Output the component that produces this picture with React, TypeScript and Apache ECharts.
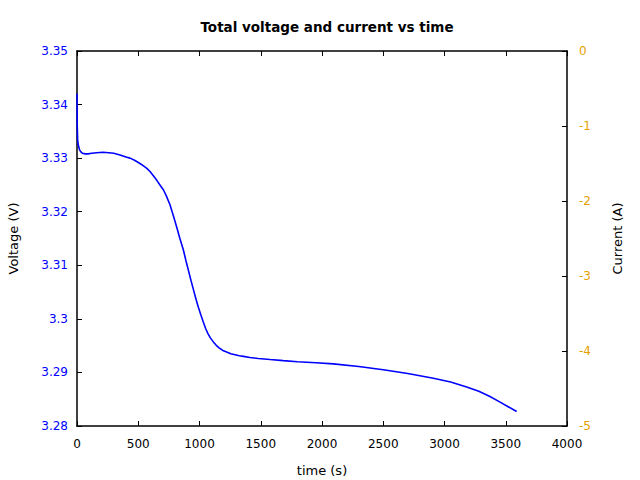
import React, { useEffect, useRef } from "react";
import * as echarts from "echarts";

const timeS = [0, 2, 5, 10, 20, 30, 45, 65, 90, 120, 160, 212, 260, 300, 351, 400, 433, 470, 514, 540, 570, 596, 620, 650, 680, 705, 730, 759, 786, 813, 841, 868, 890, 910, 930, 950, 970, 990, 1010, 1031, 1050, 1070, 1090, 1113, 1135, 1160, 1190, 1222, 1255, 1290, 1325, 1358, 1412, 1480, 1576, 1684, 1800, 1950, 2093, 2300, 2500, 2700, 2909, 3050, 3181, 3280, 3371, 3450, 3520, 3589];
const voltageV = [3.342, 3.336, 3.3335, 3.3325, 3.3316, 3.3312, 3.3309, 3.3308, 3.3308, 3.3309, 3.3310, 3.3311, 3.3310, 3.3309, 3.3306, 3.3302, 3.3300, 3.3296, 3.3290, 3.3286, 3.3281, 3.3275, 3.3268, 3.3259, 3.3249, 3.3241, 3.3229, 3.3213, 3.3193, 3.3172, 3.3149, 3.3129, 3.3108, 3.3090, 3.3072, 3.3055, 3.3038, 3.3022, 3.3008, 3.2994, 3.2982, 3.2972, 3.2964, 3.2957, 3.2951, 3.2946, 3.2941, 3.2938, 3.2935, 3.2933, 3.2931, 3.2930, 3.2928, 3.2926, 3.2924, 3.2922, 3.2920, 3.2918, 3.2916, 3.2911, 3.2905, 3.2898, 3.2889, 3.2882, 3.2873, 3.2865, 3.2855, 3.2845, 3.2836, 3.2827];

const xTicks = { min: 0, max: 4000, interval: 500 };
const vTicks = { min: 3.28, max: 3.35, interval: 0.01 };
const iTicks = { min: -5, max: 0, interval: 1 };

const FONT = "DejaVu Sans";
const BLUE = "#0000ff";
const ORANGE = "#e69f00";

export default function App() {
  const ref = useRef<HTMLDivElement>(null);
  useEffect(() => {
    if (!ref.current) return;
    const chart = echarts.init(ref.current, undefined, { renderer: "svg" });
    const axisLine = { show: true, onZero: false, lineStyle: { color: "#000", width: 1.5 } };
    const axisTick = { show: true, inside: true, length: 5, lineStyle: { color: "#000", width: 1 } };
    chart.setOption({
      animation: false,
      backgroundColor: "#fff",
      title: {
        text: "Total voltage and current vs time",
        left: 322,
        textAlign: "center",
        top: 15,
        textStyle: { fontFamily: FONT, fontSize: 13.5, fontWeight: "bold", color: "#000" },
      },
      grid: { left: 77, right: 73, top: 51, bottom: 54, containLabel: false, outerBoundsMode: "none" },
      xAxis: [
        {
          type: "value",
          position: "bottom",
          min: xTicks.min,
          max: xTicks.max,
          interval: xTicks.interval,
          name: "time (s)",
          nameLocation: "middle",
          nameGap: 38,
          nameTextStyle: { fontFamily: FONT, fontSize: 13, color: "#000" },
          axisLine,
          axisTick,
          splitLine: { show: false },
          axisLabel: { fontFamily: FONT, fontSize: 12, color: "#000", margin: 12, formatter: (v: number) => String(v) },
        },
        {
          type: "value",
          position: "top",
          min: xTicks.min,
          max: xTicks.max,
          interval: xTicks.interval,
          axisLine,
          axisTick,
          splitLine: { show: false },
          axisLabel: { show: false },
        },
      ],
      yAxis: [
        {
          type: "value",
          position: "left",
          min: vTicks.min,
          max: vTicks.max,
          interval: vTicks.interval,
          name: "Voltage (V)",
          nameLocation: "middle",
          nameGap: 57,
          nameTextStyle: { fontFamily: FONT, fontSize: 13, color: "#000" },
          axisLine,
          axisTick,
          splitLine: { show: false },
          axisLabel: {
            fontFamily: FONT,
            fontSize: 12,
            color: BLUE,
            margin: 9,
            formatter: (v: number) => parseFloat(v.toFixed(2)).toString(),
          },
        },
        {
          type: "value",
          position: "right",
          min: iTicks.min,
          max: iTicks.max,
          interval: iTicks.interval,
          name: "Current (A)",
          nameLocation: "middle",
          nameGap: 44,
          nameRotate: 90,
          nameTextStyle: { fontFamily: FONT, fontSize: 13, color: "#000" },
          axisLine,
          axisTick,
          splitLine: { show: false },
          axisLabel: { fontFamily: FONT, fontSize: 12, color: ORANGE, margin: 12 },
        },
      ],
      series: [
        {
          type: "line",
          name: "Voltage",
          xAxisIndex: 0,
          yAxisIndex: 0,
          data: timeS.map((t, i) => [t, voltageV[i]]),
          showSymbol: false,
          smooth: false,
          lineStyle: { color: BLUE, width: 1.6 },
          itemStyle: { color: BLUE },
        },
      ],
    });
    return () => chart.dispose();
  }, []);
  return <div ref={ref} style={{ width: 640, height: 480, position: "absolute", left: 0, top: 0 }} />;
}
